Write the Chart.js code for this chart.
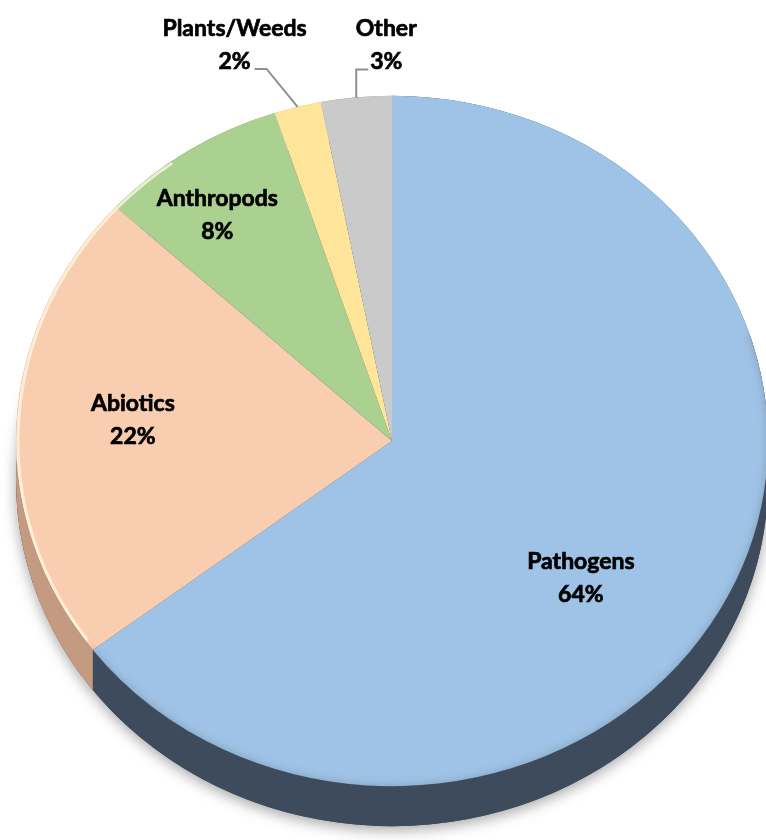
<!DOCTYPE html>
<html>
<head>
<meta charset="utf-8">
<script src="https://cdn.jsdelivr.net/npm/chart.js@4.4.0/dist/chart.umd.min.js"></script>
<style>
  html, body { margin: 0; padding: 0; background: #fff; }
  #wrap { width: 766px; height: 840px; }
</style>
</head>
<body>
<div id="wrap"><canvas id="pie" width="766" height="840"></canvas></div>
<script>
// data
const categories = ["Pathogens", "Abiotics", "Anthropods", "Plants/Weeds", "Other"];
const shares = [64, 22, 8, 2, 3];
const pctLabels = ["64%", "22%", "8%", "2%", "3%"];

const sliceColors = ["#9fc3e6", "#f8cdb0", "#aad18f", "#fee59a", "#cacaca"];
const sideColors = ["#3e4b5c", "#c49a80", "#7f9d6a", "#bfac72", "#979797"];

const tilt = 0.918;   // vertical squash of the disc
const depth = 40;     // thickness of the side, px on screen

// where the labels go: inside ones by radius fraction (+ small nudge),
// outside ones by offsets from the rim point, with a leader line
const labelFont = "bold 23px Lato";
const lineGap = 33;
const insideLabels = [
  { r: 0.62, dx: -20, dy: 42 },
  { r: 0.69, dx: 0, dy: -10 },
  { r: 0.80, dx: -12, dy: 6 }
];
const outsideLabels = {
  3: { text: [-63, -62], elbow: [-31, -38], end: [-43, -38] },
  4: { text: [30, -52], elbow: [0, -28], end: [12, -28] }
};

const tiltPlugin = {
  id: "tilt",
  beforeDatasetsDraw(chart) {
    const ctx = chart.ctx;
    const arcs = chart.getDatasetMeta(0).data;
    const cx = arcs[0].x, cy = arcs[0].y, R = arcs[0].outerRadius;
    const off = depth / tilt;
    ctx.save();
    ctx.translate(cx, cy);
    ctx.scale(1, tilt);
    ctx.translate(-cx, -cy);

    // bottom of the disc with a soft shadow
    ctx.save();
    ctx.shadowColor = "rgba(0,0,0,0.35)";
    ctx.shadowBlur = 14;
    ctx.shadowOffsetY = 4;
    ctx.beginPath();
    ctx.arc(cx, cy + off, R, 0, Math.PI * 2);
    ctx.fillStyle = sideColors[0];
    ctx.fill();
    ctx.restore();

    // side walls
    arcs.forEach((a, i) => {
      ctx.beginPath();
      ctx.arc(cx, cy, R, a.startAngle, a.endAngle);
      ctx.arc(cx, cy + off, R, a.endAngle, a.startAngle, true);
      ctx.closePath();
      ctx.fillStyle = sideColors[i];
      ctx.fill();
    });
  },
  afterDatasetsDraw(chart) {
    const ctx = chart.ctx;
    const arcs = chart.getDatasetMeta(0).data;
    const cx = arcs[0].x, cy = arcs[0].y, R = arcs[0].outerRadius;

    // light rim along the Abiotics edge, soft dark blur along the front edge
    ctx.beginPath();
    ctx.arc(cx, cy, R - 2, arcs[1].startAngle + 0.03, Math.PI * 1.3);
    ctx.strokeStyle = "rgba(255,250,225,0.75)";
    ctx.lineWidth = 3;
    ctx.stroke();
    ctx.save();
    ctx.beginPath();
    ctx.arc(cx, cy, R, 0, Math.PI * 2);
    ctx.clip();
    ctx.beginPath();
    ctx.arc(cx, cy, R + 3, Math.PI * -0.1, arcs[0].endAngle);
    ctx.strokeStyle = "rgba(62,75,92,0.5)";
    ctx.lineWidth = 6;
    ctx.shadowColor = "rgba(62,75,92,0.7)";
    ctx.shadowBlur = 8;
    ctx.stroke();
    ctx.restore();

    ctx.restore();

    ctx.save();
    ctx.font = labelFont;
    ctx.fillStyle = "#000";
    ctx.textAlign = "center";
    ctx.textBaseline = "middle";

    arcs.forEach((a, i) => {
      const mid = (a.startAngle + a.endAngle) / 2;
      let tx, ty;
      if (outsideLabels[i]) {
        const o = outsideLabels[i];
        const px = cx + R * Math.cos(mid);
        const py = cy + R * Math.sin(mid) * tilt;
        ctx.beginPath();
        ctx.moveTo(px, py);
        ctx.lineTo(px + o.elbow[0], py + o.elbow[1]);
        ctx.lineTo(px + o.end[0], py + o.end[1]);
        ctx.strokeStyle = "#8f8f8f";
        ctx.lineWidth = 2;
        ctx.stroke();
        tx = px + o.text[0];
        ty = py + o.text[1];
      } else {
        const l = insideLabels[i];
        tx = cx + R * l.r * Math.cos(mid) + l.dx;
        ty = cy + R * l.r * Math.sin(mid) * tilt + l.dy;
      }
      ctx.strokeStyle = "#000";
      ctx.lineWidth = 0.7;
      [categories[i], pctLabels[i]].forEach((t, k) => {
        const y = ty + (k ? 1 : -1) * lineGap / 2;
        ctx.fillText(t, tx, y);
        ctx.strokeText(t, tx, y);
      });
    });
    ctx.restore();
  }
};

new Chart(document.getElementById("pie"), {
  type: "pie",
  data: {
    labels: categories,
    datasets: [{
      data: shares,
      backgroundColor: sliceColors,
      borderWidth: 0,
      radius: 376,
      clip: false
    }]
  },
  options: {
    responsive: false,
    devicePixelRatio: 1,
    animation: false,
    layout: { padding: { left: 18, right: 0, top: 42, bottom: 0 } },
    plugins: {
      legend: { display: false },
      tooltip: { enabled: false }
    }
  },
  plugins: [tiltPlugin]
});
</script>
</body>
</html>
